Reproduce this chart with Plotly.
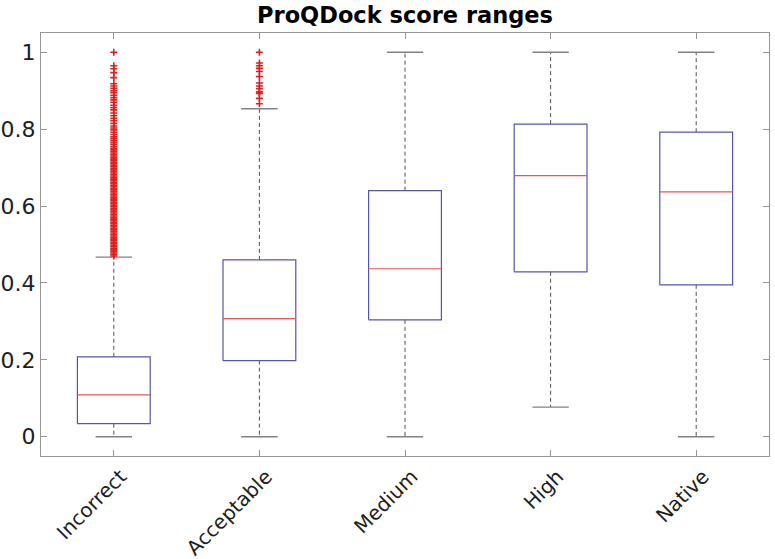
import plotly.graph_objects as go

categories = ["Incorrect", "Acceptable", "Medium", "High", "Native"]
lower_whisker = [0.0, 0.0, 0.0, 0.077, 0.0]
q1 = [0.034, 0.198, 0.304, 0.429, 0.395]
median = [0.109, 0.307, 0.437, 0.679, 0.637]
q3 = [0.208, 0.460, 0.640, 0.813, 0.792]
upper_whisker = [0.467, 0.853, 1.0, 1.0, 1.0]

outliers_incorrect = [
    0.470, 0.474, 0.478, 0.482, 0.486, 0.490, 0.494, 0.498, 0.502, 0.506,
    0.510, 0.514, 0.518, 0.522, 0.526, 0.530, 0.534, 0.538, 0.542, 0.546,
    0.550, 0.554, 0.558, 0.562, 0.566, 0.570, 0.574, 0.578, 0.582, 0.586,
    0.590, 0.594, 0.598, 0.602, 0.606, 0.610, 0.614, 0.618, 0.622, 0.626,
    0.630, 0.634, 0.638, 0.642, 0.646, 0.650, 0.654, 0.658, 0.662, 0.666,
    0.670, 0.674, 0.678, 0.682, 0.686, 0.690, 0.694, 0.698, 0.702, 0.706,
    0.710, 0.714, 0.718, 0.722, 0.726, 0.730, 0.734, 0.738, 0.742, 0.746,
    0.750, 0.755, 0.760, 0.765, 0.770, 0.775, 0.780, 0.786, 0.792, 0.798,
    0.803, 0.808, 0.815, 0.822, 0.828, 0.835, 0.842, 0.850, 0.856, 0.862,
    0.870, 0.876, 0.882, 0.888, 0.895, 0.900, 0.906, 0.912, 0.918, 0.934,
    0.947, 0.957, 0.965, 1.0,
]
outliers_acceptable = [0.866, 0.880, 0.893, 0.897, 0.905, 0.912, 0.920,
                       0.937, 0.950, 0.958, 0.965, 0.972, 1.0]
outliers = [outliers_incorrect, outliers_acceptable, [], [], []]

BOX_HALF = 0.25
CAP_HALF = 0.125
box_color = "rgb(85,85,175)"
med_color = "rgb(235,85,85)"
whisk_color = "rgb(80,80,80)"
cap_color = "rgb(130,130,130)"

fig = go.Figure()
for i, name in enumerate(categories):
    x = i + 1
    fig.add_trace(go.Scatter(x=[x, x, None, x, x],
                             y=[q3[i], upper_whisker[i], None, q1[i], lower_whisker[i]],
                             mode="lines", line=dict(color=whisk_color, width=1, dash="4px,3px"),
                             hoverinfo="skip", showlegend=False))
    fig.add_trace(go.Scatter(x=[x - CAP_HALF, x + CAP_HALF, None, x - CAP_HALF, x + CAP_HALF],
                             y=[upper_whisker[i], upper_whisker[i], None, lower_whisker[i], lower_whisker[i]],
                             mode="lines", line=dict(color=cap_color, width=1.3),
                             hoverinfo="skip", showlegend=False))
    fig.add_trace(go.Scatter(x=[x - BOX_HALF, x + BOX_HALF, x + BOX_HALF, x - BOX_HALF, x - BOX_HALF],
                             y=[q1[i], q1[i], q3[i], q3[i], q1[i]],
                             mode="lines", line=dict(color=box_color, width=1.2),
                             hoverinfo="skip", showlegend=False))
    fig.add_trace(go.Scatter(x=[x - BOX_HALF, x + BOX_HALF], y=[median[i], median[i]],
                             mode="lines", line=dict(color=med_color, width=1.2),
                             hoverinfo="skip", showlegend=False))
    if outliers[i]:
        fig.add_trace(go.Scatter(x=[x] * len(outliers[i]), y=outliers[i], mode="markers",
                                 marker=dict(symbol="cross-thin", size=5,
                                             line=dict(color="rgb(225,30,30)", width=1.6)),
                                 showlegend=False))

axis_common = dict(showgrid=False, zeroline=False, showline=True, linecolor="rgb(150,150,150)",
                   linewidth=1, mirror="ticks", ticks="inside", ticklen=6,
                   tickcolor="rgb(150,150,150)", automargin=False)

fig.update_layout(
    width=775, height=559,
    margin=dict(l=41, r=6, t=33, b=103),
    paper_bgcolor="white", plot_bgcolor="white",
    font=dict(family="DejaVu Sans", color="rgb(30,30,30)"),
    title=dict(text="<b>ProQDock score ranges</b>", x=0.5, xref="paper", xanchor="center",
               y=0.973, yref="container", yanchor="middle",
               font=dict(size=22.5, family="DejaVu Sans", color="black")),
    xaxis=dict(range=[0.5, 5.5], tickvals=[1, 2, 3, 4, 5], ticktext=categories,
               tickangle=-45, tickfont=dict(size=20), ticklabelshift=7, **axis_common),
    yaxis=dict(range=[-0.05, 1.05], tickvals=[0, 0.2, 0.4, 0.6, 0.8, 1],
               ticktext=["0", "0.2", "0.4", "0.6", "0.8", "1"],
               tickfont=dict(size=22), **axis_common),
)

# remove the browser's default 8px page margin so the figure fills the window exactly
fig.write_html("out.html", config={"displayModeBar": False},
               post_script="document.body.style.margin='0';")
